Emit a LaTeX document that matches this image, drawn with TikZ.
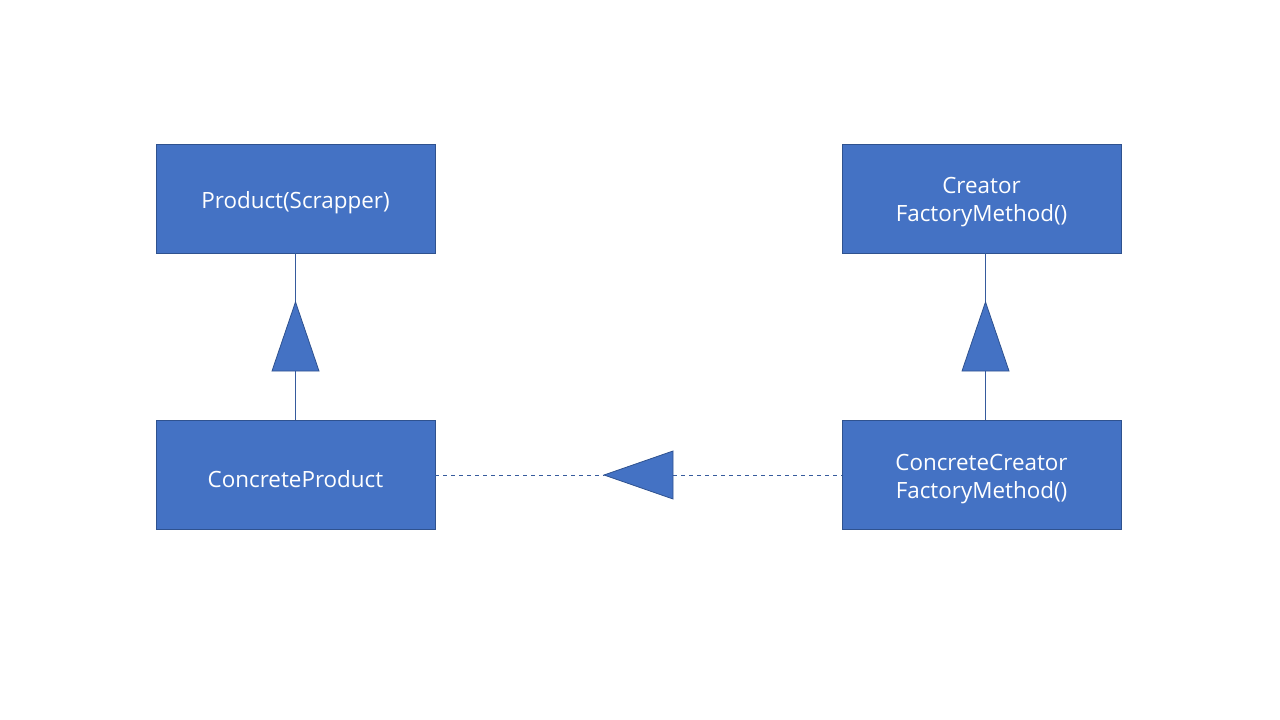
\documentclass[tikz,border=0pt]{standalone}
\usepackage{fontspec}
\setmainfont{Open Sans}
\begin{document}
\begin{tikzpicture}[x=0.75pt,y=-0.75pt,
  cls/.style={draw=boxline,fill=boxfill,minimum width=279*0.75pt,minimum height=109*0.75pt,inner sep=0pt,line width=0.6pt},
  lbl/.style={text=white,inner sep=0pt,align=center,font=\fontsize{16.8}{21}\selectfont},
  tri/.style={draw=boxline,fill=boxfill,line width=0.6pt,line join=miter},
  conn/.style={draw=boxfill!80!black,line width=0.6pt}]
\definecolor{boxfill}{HTML}{4472C4}
\definecolor{boxline}{HTML}{2F528F}
\useasboundingbox (0,0) rectangle (1280,720);
\node[cls] (prod) at (295.5,198.5) {};
\node[cls] (crea) at (981.5,198.5) {};
\node[cls] (cprod) at (295.5,475) {};
\node[cls] (ccrea) at (981.5,475) {};
\node[lbl] (prodt) at ([yshift=-3pt]prod.center) {Product(Scrapper)};
\node[lbl] (creat) at ([yshift=-3pt]crea.center) {Creator\\FactoryMethod()};
\node[lbl] (cprodt) at ([yshift=-3pt]cprod.center) {ConcreteProduct};
\node[lbl] (ccreat) at ([yshift=-3pt]ccrea.center) {ConcreteCreator\\FactoryMethod()};
% left inheritance
\coordinate (la) at (295.5,302);
\coordinate (lb) at (295.5,371);
\draw[conn] (prod.south) -- (la);
\draw[conn] (lb) -- (cprod.north);
\draw[tri] (la) -- (319,371) -- (272,371) -- cycle;
% right inheritance
\coordinate (ra) at (985.5,302);
\coordinate (rb) at (985.5,371);
\draw[conn] (crea.south -| ra) -- (ra);
\draw[conn] (rb) -- (ccrea.north -| rb);
\draw[tri] (ra) -- (1009,371) -- (962,371) -- cycle;
% horizontal realization
\coordinate (ha) at (604,475);
\coordinate (hb) at (673,475);
\draw[conn,dashed] (cprod.east) -- (ha);
\draw[conn,dashed] (hb) -- (ccrea.west);
\draw[tri] (ha) -- (673,451) -- (673,499) -- cycle;
\end{tikzpicture}
\end{document}
